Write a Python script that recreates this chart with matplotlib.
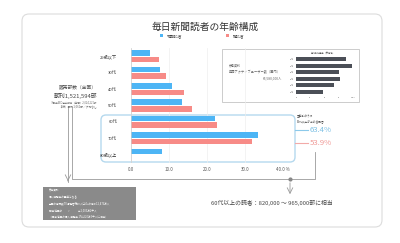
import numpy as np
import matplotlib
matplotlib.use("Agg")
import matplotlib.pyplot as plt
from matplotlib.patches import FancyBboxPatch, Rectangle

plt.rcParams['font.family'] = ['Noto Sans CJK JP', 'DejaVu Sans']

# main chart data (%)
ages = ["29歳以下", "30代", "40代", "50代", "60代", "70代", "80歳以上"]
home = [5.0, 7.5, 10.8, 13.4, 22.2, 33.5, 8.2]
buyer = [7.3, 9.2, 14.0, 16.0, 22.7, 31.8, 0.0]
xticks = [0, 10, 20, 30, 40]
xtick_labels = ["0.0", "10.0", "20.0", "30.0", "40.0 %"]

# inset (reference) chart
inset_labels = ["20代", "30代", "40代", "50代", "60代", "70代"]
inset_vals = [35.2, 39.3, 30.2, 31.0, 27.0, 18.6]

share_home = "63.4%"
share_buyer = "53.9%"

blue = "#4db5f5"
pink = "#f78b87"
gray = "#9a9a9a"

fig = plt.figure(figsize=(4, 2.43), dpi=100)

# background axes in pixel coords
bg = fig.add_axes([0, 0, 1, 1])
bg.set_xlim(0, 400)
bg.set_ylim(243, 0)
bg.axis("off")

bg.add_patch(FancyBboxPatch((22, 14), 360, 213, boxstyle="round,pad=0,rounding_size=7",
                            fc="white", ec="#dcdcdc", lw=0.8))

bg.text(205, 27, "毎日新聞読者の年齢構成", ha="center", va="center", fontsize=7, color="#333333")
bg.add_patch(Rectangle((160, 34.5), 3, 3, fc=blue, ec="none"))
bg.text(167, 36, "宅配読者", ha="left", va="center", fontsize=2.8, color="#444444")
bg.add_patch(Rectangle((226, 34.5), 3, 3, fc=pink, ec="none"))
bg.text(233, 36, "購読者", ha="left", va="center", fontsize=2.8, color="#444444")

# highlight box for 60+
bg.add_patch(FancyBboxPatch((101, 115), 194, 47, boxstyle="round,pad=0,rounding_size=5",
                            fc="none", ec="#b5d9ee", lw=1.0))

# left sales text
bg.text(97, 88, "販売部数（全国）", ha="right", va="center", fontsize=3.4, color="#555555")
bg.text(97, 96, "朝刊1,521,594部", ha="right", va="center", fontsize=4.2, color="#444444")
bg.text(97, 102, "※日本ABC協会報告（年間）2,024,221部", ha="right", va="center", fontsize=1.8, color="#666666")
bg.text(97, 106, "（2紙）朝刊1,061部／夕刊なし", ha="right", va="center", fontsize=2.0, color="#666666")

# frame lines
bg.plot([68, 68], [108, 182], color=gray, lw=0.6)
bg.annotate("", xy=(68, 184), xytext=(68, 178),
            arrowprops=dict(arrowstyle="->", color=gray, lw=0.6))
bg.plot([72, 72, 315, 315], [108, 179, 179, 152], color=gray, lw=0.6)
bg.plot([290], [179], "o", color="#888888", ms=2)
bg.annotate("", xy=(290, 197), xytext=(290, 180),
            arrowprops=dict(arrowstyle="->", color=gray, lw=0.6))
bg.text(211, 203, "60代以上の読者：820,000 〜 965,000部に相当", ha="left", va="center",
        fontsize=4.2, color="#444444")

# gray reference box
bg.add_patch(Rectangle((43, 187), 93, 33, fc="#8a8a8a", ec="none"))
notes = ["参考資料",
         "個人視聴率の基準となる",
         "全国の世帯数TV視聴者総計人口4+の推計12,476万人",
         "関東地区の　　〃　　　＝2,003万2千人",
         "（関東地区の個人視聴率 1%は20万3千人に相当）"]
for i, line in enumerate(notes):
    bg.text(49, 191 + i * 6.3, line, ha="left", va="center", fontsize=1.9, color="white")

# share annotations
bg.text(297, 116, "全年齢のうち", ha="left", va="center", fontsize=2.0, color="#444444")
bg.text(297, 121, "60代以上が占める割合", ha="left", va="center", fontsize=2.0, color="#444444")
bg.plot([295, 308], [130, 130], color="#8cc9ea", lw=0.8)
bg.text(310, 130, share_home, ha="left", va="center", fontsize=5.6, color="#7cc0e4")
bg.plot([295, 308], [143, 143], color="#f2aaa8", lw=0.8)
bg.text(310, 143, share_buyer, ha="left", va="center", fontsize=5.6, color="#f09a97")

# inset box
bg.add_patch(Rectangle((222, 49), 137, 52.5, fc="white", ec="#c4c4c4", lw=0.6))
bg.text(229, 65, "参考資料", ha="left", va="center", fontsize=2.2, color="#666666")
bg.text(229, 72, "年間アクティブユーザー数（国内）", ha="left", va="center", fontsize=2.3, color="#666666")
bg.text(282, 78, "66,580,000人", ha="right", va="center", fontsize=2.4, color="#666666")
bg.text(323, 52.5, "年代別利用率（参考値）", ha="center", va="center", fontsize=1.6, color="#555555")

# main chart
ax = fig.add_axes([131 / 400, 1 - 163 / 243, 152 / 400, 115 / 243])
ax.patch.set_alpha(0)
y = np.arange(len(ages))
ax.barh(y - 0.2, home, height=0.34, color=blue)
ax.barh(y + 0.2, buyer, height=0.34, color=pink)
ax.set_xlim(0, 40)
ax.set_ylim(len(ages) - 0.5, -0.5)
ax.set_yticks(y)
ax.set_yticklabels(ages, fontsize=3.0, color="#333333")
ax.tick_params(axis="y", length=0, pad=10)
ax.set_xticks(xticks)
ax.set_xticklabels(xtick_labels, fontsize=3.2, color="#555555")
ax.tick_params(axis="x", length=0, pad=3)
ax.grid(axis="x", color="#eeeeee", lw=0.5)
ax.set_axisbelow(True)
for s in ax.spines.values():
    s.set_visible(False)
ax.axvline(0, color="#cccccc", lw=0.5)

# inset chart
ax2 = fig.add_axes([296 / 400, 1 - 95 / 243, 57 / 400, 39 / 243])
ax2.patch.set_alpha(0)
y2 = np.arange(len(inset_labels))
ax2.barh(y2, inset_vals, height=0.68, color="#4b4f57")
ax2.set_xlim(0, 40)
ax2.set_ylim(len(inset_labels) - 0.5, -0.5)
ax2.set_yticks(y2)
ax2.set_yticklabels(inset_labels, fontsize=1.3, color="#555555")
ax2.set_xticks([0, 10, 20, 30, 40])
ax2.set_xticklabels(["0", "10", "20", "30", "40 %"], fontsize=1.3, color="#555555")
ax2.tick_params(length=0, pad=1.5)
for s in ax2.spines.values():
    s.set_visible(False)

fig.savefig("out.png", dpi=100)
